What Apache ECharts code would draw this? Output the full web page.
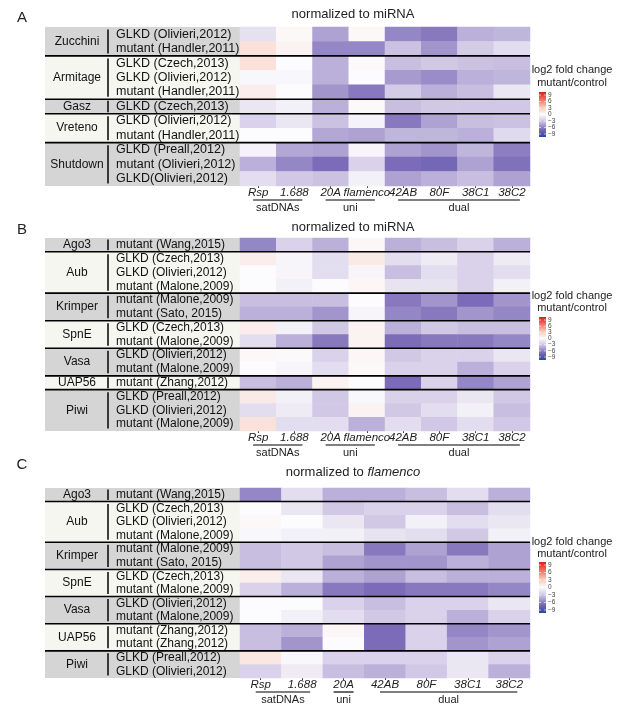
<!DOCTYPE html>
<html><head><meta charset="utf-8">
<script src="https://cdn.jsdelivr.net/npm/echarts@6/dist/echarts.min.js"></script>
<style>html,body{margin:0;padding:0;background:#fff}#c{width:617px;height:711px}</style>
</head><body><div id="c"></div>
<script>
const FONT = "'Liberation Sans', Arial, sans-serif";
const colsAB = ['Rsp','1.688','20A','flamenco','42AB','80F','38C1','38C2'];
const colsC = ['Rsp','1.688','20A','42AB','80F','38C1','38C2'];
const colGroupsAB = [['satDNAs',0,1],['uni',2,3],['dual',4,7]];
const colGroupsC = [['satDNAs',0,1],['uni',2,2],['dual',3,6]];
const legendTicks = [9,6,3,0,-3,-6,-9];

const rowsA = ['GLKD (Olivieri,2012)','mutant (Handler,2011)','GLKD (Czech,2013)','GLKD (Olivieri,2012)','mutant (Handler,2011)','GLKD (Czech,2013)','GLKD (Olivieri,2012)','mutant (Handler,2011)','GLKD (Preall,2012)','mutant (Olivieri,2012)','GLKD(Olivieri,2012)'];
const groupsA = [['Zucchini',2],['Armitage',3],['Gasz',1],['Vreteno',2],['Shutdown',3]];
const valuesA = [
 [-1.3, 0.2,-4.0, 0.2,-5.0,-5.5,-3.5,-3.3],
 [ 1.5, 0.5,-5.0,-5.0,-2.8,-4.5,-2.3,-1.5],
 [ 1.5, 0.0,-3.5, 0.1,-3.0,-2.5,-2.8,-3.0],
 [-0.2,-0.2,-3.5, 0.0,-4.3,-4.8,-3.5,-3.3],
 [ 0.8, 0.0,-4.5,-5.5,-2.3,-3.5,-3.0,-1.0],
 [-1.0,-0.5,-3.5, 0.1,-3.0,-2.5,-2.5,-2.5],
 [-2.0,-1.0,-2.8,-0.4,-5.5,-4.0,-3.0,-2.8],
 [ 0.0, 0.0,-3.8,-4.0,-3.3,-3.3,-3.5,-1.6],
 [-0.4,-3.8,-4.0,-0.3,-4.0,-4.5,-3.3,-5.3],
 [-3.5,-5.0,-6.0,-2.0,-6.0,-6.3,-4.0,-5.8],
 [-1.5,-2.5,-2.8,-0.5,-4.0,-3.5,-3.0,-4.0]
];

const rowsB = ['mutant (Wang,2015)','GLKD (Czech,2013)','GLKD (Olivieri,2012)','mutant (Malone,2009)','mutant (Malone,2009)','mutant (Sato, 2015)','GLKD (Czech,2013)','mutant (Malone,2009)','GLKD (Olivieri,2012)','mutant (Malone,2009)','mutant (Zhang,2012)','GLKD (Preall,2012)','GLKD (Olivieri,2012)','mutant (Malone,2009)'];
const groupsB = [['Ago3',1],['Aub',3],['Krimper',2],['SpnE',2],['Vasa',2],['UAP56',1],['Piwi',3]];
const valuesB = [
 [-5.0,-2.0,-3.5, 0.3,-3.5,-3.0,-2.0,-3.5],
 [ 0.8,-0.3,-1.5, 1.0,-1.5,-0.8,-2.0,-0.8],
 [ 0.0,-0.3,-1.5,-0.3,-3.0,-1.5,-2.0,-1.5],
 [ 0.0,-0.5, 0.0, 0.3,-1.2,-1.2,-2.0,-0.5],
 [-3.0,-3.0,-3.0, 0.0,-5.5,-4.5,-6.0,-4.5],
 [-3.5,-3.5,-4.5,-0.3,-5.0,-5.5,-4.5,-5.0],
 [ 0.8,-0.5,-2.5, 0.5,-3.5,-2.5,-3.0,-3.0],
 [-1.5,-3.5,-5.5, 0.5,-6.0,-5.5,-5.5,-5.0],
 [ 0.2, 0.1,-2.0, 0.3,-2.5,-2.0,-2.0,-1.0],
 [ 0.0,-0.3,-1.5, 0.2,-2.0,-2.0,-3.5,-2.0],
 [-3.0,-3.5, 0.5, 0.0,-6.0,-2.0,-5.0,-4.0],
 [ 1.0,-0.5,-2.5,-0.2,-2.0,-2.0,-1.0,-2.5],
 [-1.5,-0.8,-2.5, 0.5,-2.5,-1.5,-0.5,-3.0],
 [ 1.5,-1.5,-1.5,-3.5,-1.5,-2.5,-1.5,-2.5]
];

const rowsC = ['mutant (Wang,2015)','GLKD (Czech,2013)','GLKD (Olivieri,2012)','mutant (Malone,2009)','mutant (Malone,2009)','mutant (Sato, 2015)','GLKD (Czech,2013)','mutant (Malone,2009)','GLKD (Olivieri,2012)','mutant (Malone,2009)','mutant (Zhang,2012)','mutant (Zhang,2012)','GLKD (Preall,2012)','GLKD (Olivieri,2012)'];
const groupsC = [['Ago3',1],['Aub',3],['Krimper',2],['SpnE',2],['Vasa',2],['UAP56',2],['Piwi',2]];
const valuesC = [
 [-5.0,-1.5,-3.5,-3.5,-3.0,-1.5,-3.5],
 [ 0.0,-1.0,-2.5,-2.0,-2.0,-3.0,-1.5],
 [ 0.2, 0.0,-1.0,-2.5,-0.5,-1.5,-1.0],
 [-0.2,-0.5,-0.5,-1.2,-1.5,-2.5,-0.5],
 [-3.0,-2.5,-3.0,-5.5,-4.0,-5.5,-4.0],
 [-3.0,-2.5,-4.0,-4.5,-4.5,-3.5,-4.0],
 [ 0.8,-1.0,-3.5,-4.0,-3.0,-3.5,-3.5],
 [-2.0,-3.5,-5.5,-6.0,-5.5,-5.5,-5.0],
 [ 0.0, 0.0,-2.0,-3.0,-2.0,-2.0,-1.0],
 [ 0.0,-0.5,-1.5,-2.5,-2.0,-3.5,-2.0],
 [-3.0,-3.5, 0.3,-6.0,-2.0,-5.0,-4.5],
 [-3.0,-4.5, 0.0,-6.0,-2.0,-4.5,-4.0],
 [ 1.2,-0.2,-2.0,-2.0,-2.0,-1.0,-2.0],
 [-2.0,-0.8,-3.0,-3.5,-2.5,-1.0,-3.5]
];

const scaleColors = ['#2b44a6','#7b6bb8','#c7bee0','#fcfbfd','#f7c8b8','#ee7461','#e31a1c'];

const panels = [
  {letter:'A', cols:colsAB, colGroups:colGroupsAB, rows:rowsA, groups:groupsA, values:valuesA,
   grid:{left:240, top:27, width:290, height:159}, title:'normalized to miRNA', titleY:14, letterY:18,
   leg:{t1:70, t2:83, barTop:92, barH:45}, font:12.5},
  {letter:'B', cols:colsAB, colGroups:colGroupsAB, rows:rowsB, groups:groupsB, values:valuesB,
   grid:{left:240, top:238, width:290, height:193}, title:'normalized to miRNA', titleY:227, letterY:230,
   leg:{t1:296, t2:308, barTop:317, barH:43}, font:12},
  {letter:'C', cols:colsC, colGroups:colGroupsC, rows:rowsC, groups:groupsC, values:valuesC,
   grid:{left:240, top:488, width:290, height:190}, title:'{n|normalized to }{i|flamenco}', titleY:472, letterY:465,
   leg:{t1:542, t2:554, barTop:562, barH:51}, font:12}
];

const chart = echarts.init(document.getElementById('c'));
const grids=[], xAxes=[], yAxes=[], series=[];
panels.forEach((p,i)=>{
  grids.push(p.grid);
  xAxes.push({type:'category', gridIndex:i, data:p.cols, position:'bottom',
    axisLine:{show:false}, axisTick:{show:true, alignWithLabel:true, length:2, lineStyle:{color:'#444'}},
    axisLabel:{fontStyle:'italic', fontSize:11.5, color:'#222', margin:1, fontFamily:FONT, interval:0},
    splitLine:{show:false}});
  yAxes.push({type:'category', gridIndex:i, inverse:true, data:p.rows.map((_,k)=>'r'+k),
    axisLine:{show:false}, axisTick:{show:false},
    axisLabel:{align:'left', margin:124, fontSize:p.font, color:'#111', fontFamily:FONT, interval:0,
      formatter:(v,idx)=>p.rows[idx]},
    splitLine:{show:false}});
  const data=[];
  p.values.forEach((row,r)=>row.forEach((v,c)=>data.push([c,r,v])));
  series.push({type:'heatmap', xAxisIndex:i, yAxisIndex:i, data:data, itemStyle:{borderWidth:0}, emphasis:{disabled:true}});
});

chart.setOption({
  animation:false,
  textStyle:{fontFamily:FONT},
  visualMap:{type:'continuous', min:-9, max:9, show:false, inRange:{color:scaleColors}},
  grid:grids, xAxis:xAxes, yAxis:yAxes, series:series
});

const g=[];
panels.forEach((p,i)=>{
  const p0=chart.convertToPixel({gridIndex:i},[0,0]);
  const p1=chart.convertToPixel({gridIndex:i},[1,1]);
  const cw=p1[0]-p0[0], rh=p1[1]-p0[1];
  const left=p0[0]-cw/2, top=p0[1]-rh/2;
  const right=left+cw*p.cols.length, bottom=top+rh*p.rows.length;
  let start=0;
  p.groups.forEach((gr,k)=>{
    const y0=top+start*rh, y1=top+(start+gr[1])*rh;
    const inset = gr[1]===1 ? 1.5 : 2.5;
    g.push({type:'rect', z:-1, shape:{x:45, y:y0, width:left-45, height:y1-y0}, style:{fill: k%2===0?'#d5d5d5':'#f6f6f1'}});
    g.push({type:'text', z:5, x:77, y:(y0+y1)/2, style:{text:gr[0], fontSize:12, fontFamily:FONT, fill:'#111', textAlign:'center', textVerticalAlign:'middle'}});
    g.push({type:'line', z:5, shape:{x1:108, y1:y0+inset, x2:108, y2:y1-inset}, style:{stroke:'#111', lineWidth:1.6}});
    if(k<p.groups.length-1){
      g.push({type:'line', z:10, shape:{x1:45, y1:y1, x2:right, y2:y1}, style:{stroke:'#000', lineWidth:1.6}});
    }
    start+=gr[1];
  });
  p.colGroups.forEach(cg=>{
    const a=left+cw*(cg[1]+0.5), b=left+cw*(cg[2]+0.5);
    const x1 = cg[1]===cg[2] ? a-10 : a-5;
    const x2 = cg[1]===cg[2] ? b+10 : b+8;
    g.push({type:'line', shape:{x1:x1, y1:bottom+14, x2:x2, y2:bottom+14}, style:{stroke:'#000', lineWidth:1.2}});
    g.push({type:'text', x:(x1+x2)/2, y:bottom+22, style:{text:cg[0], fontSize:11, fontFamily:FONT, fill:'#222', textAlign:'center', textVerticalAlign:'middle'}});
  });
  g.push({type:'text', x:353, y:p.titleY, style:{text:p.title, fontSize:13, fontFamily:FONT, fill:'#222', textAlign:'center', textVerticalAlign:'middle',
    rich:{n:{fontSize:13, fontFamily:FONT, fill:'#222'}, i:{fontSize:13, fontFamily:FONT, fontStyle:'italic', fill:'#222'}}}});
  g.push({type:'text', x:22, y:p.letterY, style:{text:p.letter, fontSize:15, fontFamily:FONT, fill:'#222', textAlign:'center', textVerticalAlign:'middle'}});
  const L=p.leg;
  g.push({type:'text', z:20, x:572, y:L.t1, style:{text:'log2 fold change', fontSize:11, fontFamily:FONT, fill:'#222', textAlign:'center', textVerticalAlign:'middle'}});
  g.push({type:'text', z:20, x:572, y:L.t2, style:{text:'mutant/control', fontSize:11, fontFamily:FONT, fill:'#222', textAlign:'center', textVerticalAlign:'middle'}});
  const stops=scaleColors.slice().reverse().map((c,k)=>({offset:k/(scaleColors.length-1), color:c}));
  g.push({type:'rect', shape:{x:539, y:L.barTop, width:7, height:L.barH}, style:{fill:new echarts.graphic.LinearGradient(0,0,0,1,stops)}});
  legendTicks.forEach(t=>{
    const y=L.barTop+3+(9-t)/18*(L.barH-6);
    g.push({type:'line', shape:{x1:539, y1:y, x2:541, y2:y}, style:{stroke:'#fff', lineWidth:0.6}});
    g.push({type:'line', shape:{x1:544, y1:y, x2:546, y2:y}, style:{stroke:'#fff', lineWidth:0.6}});
    g.push({type:'text', x:548, y:y, style:{text:(t<0?'\u2212'+(-t):String(t)), fontSize:6.5, fontFamily:FONT, fill:'#444', textAlign:'left', textVerticalAlign:'middle'}});
  });
});
chart.setOption({graphic:{elements:g}});
</script></body></html>
